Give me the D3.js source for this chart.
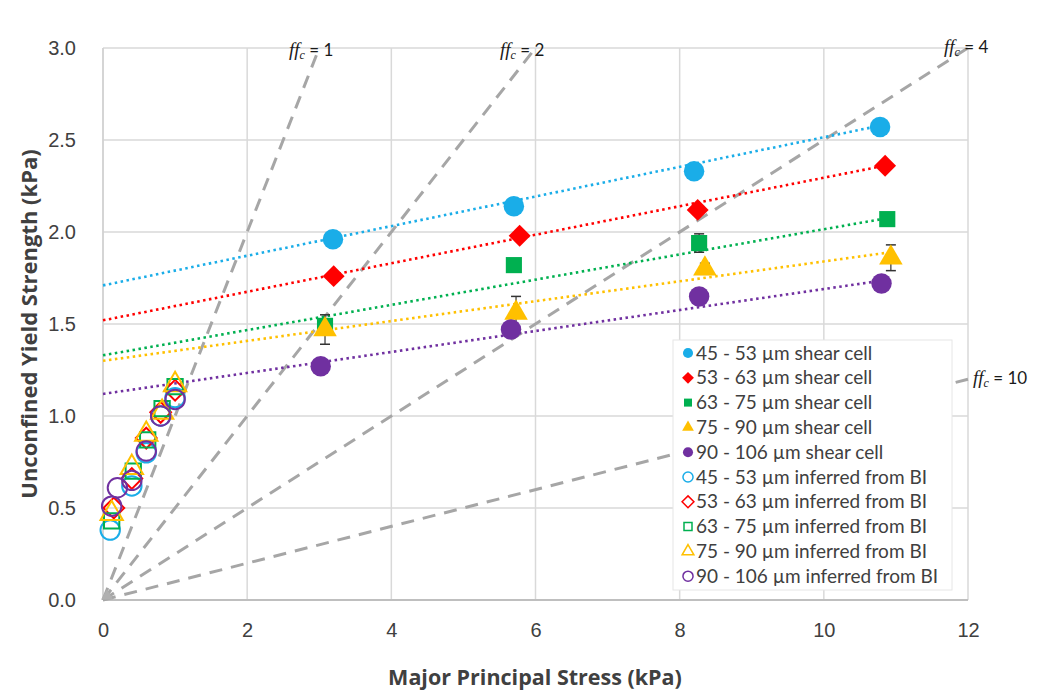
<!DOCTYPE html>
<html><head><meta charset="utf-8">
<script src="https://cdn.jsdelivr.net/npm/d3@7"></script>
<style>
body{margin:0;background:#fff;}
svg{display:block;font-family:"Open Sans","Liberation Sans",sans-serif;}
</style></head>
<body><svg id="chart" width="1042" height="691"></svg>
<script>
const seriesNames = ["45 - 53 µm","53 - 63 µm","63 - 75 µm","75 - 90 µm","90 - 106 µm"];
const seriesColors = ["#1AADE8","#FF0000","#00B050","#FFC000","#7030A0"];
const seriesShapes = ["circle","diamond","square","triangle","circle"];
// shear cell data
const shearX = [
  [3.19,5.70,8.20,10.78],
  [3.20,5.78,8.25,10.85],
  [3.08,5.70,8.27,10.88],
  [3.08,5.73,8.35,10.93],
  [3.02,5.66,8.27,10.80]
];
const shearY = [
  [1.96,2.14,2.33,2.57],
  [1.76,1.98,2.12,2.36],
  [1.49,1.82,1.94,2.07],
  [1.47,1.56,1.80,1.86],
  [1.27,1.47,1.65,1.72]
];
const shearErr = [
  [0,0,0,0],
  [0,0,0,0],
  [0,0,0.05,0],
  [0.08,0.09,0.03,0.07],
  [0,0,0,0]
];
// inferred from BI
const biX = [
  [0.10,0.40,0.60,0.80,1.00],
  [0.15,0.40,0.60,0.80,1.00],
  [0.12,0.42,0.62,0.82,1.00],
  [0.12,0.40,0.60,0.82,1.00],
  [0.12,0.20,0.40,0.60,0.80,1.00]
];
const biY = [
  [0.38,0.62,0.80,1.00,1.10],
  [0.50,0.66,0.88,1.02,1.14],
  [0.43,0.70,0.87,1.04,1.16],
  [0.47,0.72,0.90,1.02,1.17],
  [0.51,0.61,0.65,0.81,1.00,1.09]
];
// linear trend lines (intercept, slope) over x range
const trendIntercept = [1.71,1.52,1.33,1.30,1.12];
const trendSlope = [0.0805,0.0775,0.0685,0.054,0.057];
const trendXEnd = [10.8,10.9,10.9,10.9,10.8];
// flow function lines
const ffcValues = [1,2,4,10];
const ffcLabels = ["1","2","4","10"];
const xTicks = [0,2,4,6,8,10,12];
const yTicks = [0,0.5,1.0,1.5,2.0,2.5,3.0];

const svg = d3.select("#chart");
const L=103,R=968,T=48,B=600;
const x = d3.scaleLinear().domain([0,12]).range([L,R]);
const y = d3.scaleLinear().domain([0,3]).range([B,T]);

// grid
svg.append("g").selectAll("line").data(yTicks).join("line")
  .attr("x1",L).attr("x2",R).attr("y1",d=>y(d)).attr("y2",d=>y(d))
  .attr("stroke","#d9d9d9").attr("stroke-width",1.5);
svg.append("g").selectAll("line").data(xTicks).join("line")
  .attr("x1",d=>x(d)).attr("x2",d=>x(d)).attr("y1",T).attr("y2",B)
  .attr("stroke","#d9d9d9").attr("stroke-width",1.5);
// axes lines
svg.append("line").attr("x1",L).attr("x2",R).attr("y1",B).attr("y2",B).attr("stroke","#bfbfbf").attr("stroke-width",2);
svg.append("line").attr("x1",L).attr("x2",L).attr("y1",T).attr("y2",B).attr("stroke","#d0d0d0").attr("stroke-width",1.5);

// axis labels
const xAxis = d3.axisBottom(x).tickValues(xTicks).tickSize(0).tickFormat(d3.format("d"));
const gx = svg.append("g").attr("transform",`translate(0,${B})`).call(xAxis);
gx.select(".domain").remove();
gx.selectAll("text").attr("y",23).attr("dy","0.71em").attr("font-size",20).attr("fill","#404040");
const yAxis = d3.axisLeft(y).tickValues(yTicks).tickSize(0).tickFormat(d3.format(".1f"));
const gy = svg.append("g").attr("transform",`translate(${L},0)`).call(yAxis);
gy.select(".domain").remove();
gy.selectAll("text").attr("x",-27).attr("font-size",20).attr("fill","#404040");

svg.append("text").attr("x",535).attr("y",685).attr("text-anchor","middle")
  .attr("font-weight","bold").attr("font-size",21.5).attr("fill","#404040")
  .text("Major Principal Stress (kPa)");
svg.append("text").attr("transform","translate(37,324) rotate(-90)").attr("text-anchor","middle")
  .attr("font-weight","bold").attr("font-size",22).attr("fill","#404040")
  .text("Unconfined Yield Strength (kPa)");

const plot = svg.append("g");
// ffc dashed lines
ffcValues.forEach(ff=>{
  const xe = Math.min(12, 3*ff);
  plot.append("line").attr("x1",x(0)).attr("y1",y(0)).attr("x2",x(xe)).attr("y2",y(xe/ff))
    .attr("stroke","#a6a6a6").attr("stroke-width",3).attr("stroke-dasharray","13,9");
});
// origin triangle
plot.append("path").attr("d",d3.symbol(d3.symbolTriangle,60)()).attr("transform",`translate(${x(0)+4},${y(0)-4})`).attr("fill","#b0b0b0");

// ffc labels
const ffPos = [[289,56],[500,56],[944,53],[973,384]];
ffcValues.forEach((ff,i)=>{
  const t = plot.append("text").attr("x",ffPos[i][0]).attr("y",ffPos[i][1])
    .attr("font-size",19).attr("fill","#1a1a1a").attr("font-family","'Liberation Serif',serif");
  t.append("tspan").attr("font-style","italic").text("ff");
  t.append("tspan").attr("font-size",12).attr("dy",3).attr("font-style","italic").text("c");
  t.append("tspan").attr("dy",-3).attr("font-family","Lato,'Open Sans',sans-serif").attr("font-size",17).text(" = "+ffcLabels[i]);
});

// trend lines
seriesNames.forEach((n,i)=>{
  plot.append("line").attr("x1",x(0)).attr("y1",y(trendIntercept[i]))
    .attr("x2",x(trendXEnd[i])).attr("y2",y(trendIntercept[i]+trendSlope[i]*trendXEnd[i]))
    .attr("stroke",seriesColors[i]).attr("stroke-width",2.6).attr("stroke-dasharray","2.5,3.5");
});

function symbolFor(shape,size){
  if(shape==="diamond"){
    const h = Math.sqrt(size*2)/2;
    return `M0,${-h}L${h},0L0,${h}L${-h},0Z`;
  }
  const m = {circle:d3.symbolCircle,square:d3.symbolSquare,triangle:d3.symbolTriangle};
  return d3.symbol(m[shape],size)();
}
const bigSize = {circle:330,diamond:240,square:260,triangle:240};

// hollow BI markers
seriesNames.forEach((n,i)=>{
  const pts = biX[i].map((v,j)=>[v,biY[i][j]]);
  plot.append("g").selectAll("path").data(pts).join("path")
    .attr("d",symbolFor(seriesShapes[i],bigSize[seriesShapes[i]]*0.9))
    .attr("transform",d=>`translate(${x(d[0])},${y(d[1])})`)
    .attr("fill","none").attr("stroke",seriesColors[i]).attr("stroke-width",2);
});

// shear cell markers + error bars
seriesNames.forEach((n,i)=>{
  const pts = shearX[i].map((v,j)=>[v,shearY[i][j],shearErr[i][j]]);
  const g = plot.append("g");
  pts.filter(d=>d[2]>0).forEach(d=>{
    g.append("line").attr("x1",x(d[0])).attr("x2",x(d[0])).attr("y1",y(d[1]-d[2])).attr("y2",y(d[1]+d[2])).attr("stroke","#333").attr("stroke-width",1.2);
    [d[1]-d[2],d[1]+d[2]].forEach(v=>g.append("line").attr("x1",x(d[0])-5).attr("x2",x(d[0])+5).attr("y1",y(v)).attr("y2",y(v)).attr("stroke","#333").attr("stroke-width",1.5));
  });
  g.selectAll("path").data(pts).join("path")
    .attr("d",symbolFor(seriesShapes[i],bigSize[seriesShapes[i]]))
    .attr("transform",d=>`translate(${x(d[0])},${y(d[1])})`)
    .attr("fill",seriesColors[i]);
});

// legend
const lg = svg.append("g");
lg.append("rect").attr("x",673).attr("y",340).attr("width",279).attr("height",250).attr("fill","#fff").attr("stroke","#e6e6e6");
const legendItems = [];
seriesNames.forEach((n,i)=>legendItems.push({name:n+" shear cell",i,filled:true}));
seriesNames.forEach((n,i)=>legendItems.push({name:n+" inferred from BI",i,filled:false}));
legendItems.forEach((it,k)=>{
  const yy = 353 + k*24.8;
  const sh = seriesShapes[it.i];
  const p = lg.append("path").attr("d",symbolFor(sh,{circle:80,diamond:70,square:64,triangle:60}[sh]))
    .attr("transform",`translate(688,${yy})`);
  if(it.filled) p.attr("fill",seriesColors[it.i]);
  else p.attr("fill","none").attr("stroke",seriesColors[it.i]).attr("stroke-width",1.5);
  lg.append("text").attr("x",696).attr("y",yy+6.5).attr("font-size",19).attr("fill","#404040")
    .attr("font-family","Lato,'Open Sans',sans-serif").text(it.name);
});
</script></body></html>
